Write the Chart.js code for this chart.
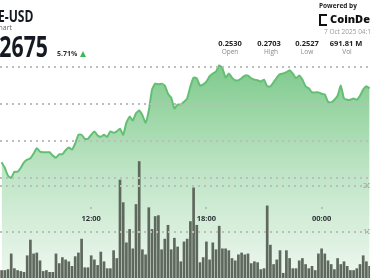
<!DOCTYPE html>
<html>
<head>
<meta charset="utf-8">
<script src="https://cdn.jsdelivr.net/npm/chart.js@4/dist/chart.umd.min.js"></script>
<style>
  html, body { margin: 0; padding: 0; background: #fff; }
  #wrap { position: relative; width: 370px; height: 280px; overflow: hidden; font-family: "Open Sans", sans-serif; }
  #chart { position: absolute; left: 0; top: 0; }
  .t { position: absolute; white-space: nowrap; line-height: 1; }
  .stat { position: absolute; width: 50px; text-align: center; line-height: 1; white-space: nowrap; }
</style>
</head>
<body>
<div id="wrap">
  <canvas id="chart" width="370" height="280"></canvas>

  <!-- left header, cropped at the left edge like the reference -->
  <div class="t" style="right:337px; top:9px; font-size:15.5px; font-weight:700; color:#151a22; transform:scaleX(0.78); transform-origin:right;">DOGE-USD</div>
  <div class="t" style="right:358px; top:24px; font-size:7px; color:#666;">Price Chart</div>
  <div class="t" style="right:322px; top:32px; font-size:28px; font-weight:700; color:#151a22; transform:scaleX(0.76); transform-origin:right;">0.2675</div>
  <div class="t" style="left:57px; top:50px; font-size:7px; font-weight:700; color:#333;">5.71%</div>
  <div style="position:absolute; left:80px; top:51px; width:0; height:0; border-left:3.5px solid transparent; border-right:3.5px solid transparent; border-bottom:6px solid #3cb95a;"></div>

  <!-- right header -->
  <div class="t" style="left:319px; top:3px; font-size:6.5px; font-weight:700; color:#222;">Powered by</div>
  <div style="position:absolute; left:319px; top:14px; width:6px; height:8px; border:2px solid #111; border-right:none;"></div>
  <div class="t" style="left:330px; top:13px; font-size:11px; font-weight:800; color:#111;">CoinDesk</div>
  <div class="t" style="left:324px; top:29px; font-size:6.5px; color:#999;">7 Oct 2025 04:15 UTC</div>

  <div class="stat" style="left:205px; top:40px; font-size:7.5px; font-weight:700; color:#222;">0.2530</div>
  <div class="stat" style="left:244px; top:40px; font-size:7.5px; font-weight:700; color:#222;">0.2703</div>
  <div class="stat" style="left:282px; top:40px; font-size:7.5px; font-weight:700; color:#222;">0.2527</div>
  <div class="stat" style="left:321px; top:40px; font-size:7.5px; font-weight:700; color:#222;">691.81 M</div>
  <div class="stat" style="left:205px; top:49px; font-size:6.5px; color:#888;">Open</div>
  <div class="stat" style="left:246px; top:49px; font-size:6.5px; color:#888;">High</div>
  <div class="stat" style="left:282px; top:49px; font-size:6.5px; color:#888;">Low</div>
  <div class="stat" style="left:322px; top:49px; font-size:6.5px; color:#888;">Vol</div>
</div>

<script>
// 10-minute bars, first one in view at 07:20
const firstBarHour = 7 + 20 / 60;
const barStepHours = 10 / 60;

// close price per bar (USD)
const price = [
  0.2549, 0.2541, 0.2529, 0.2526, 0.2535, 0.2535, 0.2541, 0.2549, 0.2553, 0.2555,
  0.2562, 0.2570, 0.2565, 0.2564, 0.2564, 0.2564, 0.2559, 0.2556, 0.2561, 0.2561,
  0.2567, 0.2571, 0.2568, 0.2577, 0.2590, 0.2590, 0.2584, 0.2584, 0.2590, 0.2595,
  0.2589, 0.2587, 0.2590, 0.2587, 0.2595, 0.2593, 0.2595, 0.2599, 0.2590, 0.2608,
  0.2617, 0.2611, 0.2622, 0.2626, 0.2619, 0.2608, 0.2626, 0.2657, 0.2666, 0.2665,
  0.2666, 0.2663, 0.2651, 0.2645, 0.2629, 0.2635, 0.2635, 0.2639, 0.2644, 0.2662,
  0.2675, 0.2674, 0.2663, 0.2665, 0.2669, 0.2677, 0.2681, 0.2684, 0.2693, 0.2689,
  0.2675, 0.2681, 0.2675, 0.2671, 0.2671, 0.2674, 0.2678, 0.2678, 0.2674, 0.2672,
  0.2671, 0.2669, 0.2672, 0.2662, 0.2662, 0.2668, 0.2675, 0.2680, 0.2681, 0.2683,
  0.2686, 0.2681, 0.2674, 0.2678, 0.2672, 0.2662, 0.2659, 0.2653, 0.2653, 0.2653,
  0.2651, 0.2650, 0.2639, 0.2638, 0.2642, 0.2648, 0.2663, 0.2644, 0.2642, 0.2642,
  0.2644, 0.2642, 0.2648, 0.2657, 0.2662, 0.2659
];

// volume per bar, millions
const volume = [
  1.7, 1.7, 1.9, 5.3, 2.1, 1.7, 1.5, 1.3, 4.9, 8.3,
  5.3, 5.5, 3.8, 1.5, 1.7, 1.3, 1.3, 5.3, 3.2, 4.5,
  4.0, 3.6, 2.6, 4.7, 5.5, 8.5, 2.3, 2.3, 4.9, 4.0,
  2.8, 5.7, 3.6, 2.1, 2.1, 6.0, 4.3, 21.3, 16.4, 7.7,
  10.6, 6.4, 16.0, 25.3, 6.2, 5.1, 15.3, 10.6, 13.4, 13.6,
  6.2, 8.5, 11.5, 6.2, 8.7, 6.8, 3.6, 7.9, 8.5, 12.3,
  19.6, 11.5, 3.4, 4.5, 7.9, 4.0, 7.7, 6.2, 11.3, 6.4,
  6.4, 6.0, 4.3, 3.8, 5.1, 5.5, 5.1, 5.3, 3.2, 3.6,
  3.4, 1.9, 2.1, 15.7, 7.2, 3.0, 4.0, 6.0, 1.1, 6.0,
  4.3, 2.1, 2.1, 3.8, 4.3, 3.0, 2.1, 2.6, 1.7, 5.3,
  6.4, 5.3, 3.8, 3.0, 1.9, 4.3, 3.0, 3.6, 2.6, 1.7,
  1.7, 2.1, 3.0, 4.9, 3.6, 2.6
];

const timeLabels = ['12:00', '18:00', '00:00'];
const timeHours  = [12, 18, 24];

const priceGrid = [0.2525, 0.2580, 0.2635, 0.2690];
const volGrid   = [10, 20];
const volLabels = ['10M', '20M'];

const hours = price.map((_, i) => firstBarHour + i * barStepHours);

// time labels sit inside the plot, volume labels hug the right edge
const innerLabels = {
  id: 'innerLabels',
  afterDraw(chart) {
    const { ctx, scales } = chart;
    ctx.save();
    ctx.textBaseline = 'middle';
    ctx.textAlign = 'center';
    timeLabels.forEach((t, i) => {
      const x = scales.x.getPixelForValue(timeHours[i]);
      ctx.fillStyle = '#999';
      ctx.fillRect(Math.round(x) - 0.5, 207, 1, 2);
      ctx.fillStyle = '#2e3338';
      ctx.font = 'bold 7.5px "Open Sans"';
      ctx.fillText(t, x, 219);
    });
    ctx.textAlign = 'left';
    ctx.fillStyle = '#9c9c9c';
    ctx.font = '7.5px "Open Sans"';
    volGrid.forEach((v, i) => {
      ctx.fillText(volLabels[i], 363, scales.yv.getPixelForValue(v));
    });
    ctx.restore();
  }
};

Chart.defaults.font.family = '"Open Sans", sans-serif';

// dotted grid drawn above the area fill
const gridDots = { color: '#bdbdbd', lineWidth: 2, drawTicks: false, z: 1 };

const ctx = document.getElementById('chart').getContext('2d');
new Chart(ctx, {
  type: 'bar',
  data: {
    datasets: [
      {
        type: 'line',
        data: price.map((p, i) => ({ x: hours[i], y: p })),
        yAxisID: 'yp',
        borderColor: '#64bf74',
        borderWidth: 2,
        pointRadius: 0,
        tension: 0.15,
        fill: 'start',
        backgroundColor: (c) => {
          const area = c.chart.chartArea;
          if (!area) return 'rgba(125,200,140,0.6)';
          const g = c.chart.ctx.createLinearGradient(0, area.top, 0, area.bottom);
          g.addColorStop(0, '#7bc889');
          g.addColorStop(0.5, '#bde4c4');
          g.addColorStop(1, '#eff8f0');
          return g;
        },
        order: 2
      },
      {
        data: volume.map((v, i) => ({ x: hours[i], y: v })),
        yAxisID: 'yv',
        backgroundColor: '#5f685c',
        barPercentage: 0.84,
        categoryPercentage: 1,
        order: 1
      }
    ]
  },
  options: {
    responsive: false,
    animation: false,
    layout: { padding: { top: 58, left: 0, right: 0, bottom: 0 } },
    plugins: { legend: { display: false }, tooltip: { enabled: false } },
    scales: {
      x: {
        type: 'linear',
        min: 7.25,
        max: 7.25 + 370 / 19.2,
        offset: false,
        display: false
      },
      yp: {
        position: 'left',
        min: 0.23741,
        max: 0.27041,
        afterBuildTicks: (s) => { s.ticks = priceGrid.map(v => ({ value: v })); },
        ticks: { display: false },
        grid: gridDots,
        border: { display: false, dash: [2, 4] }
      },
      yv: {
        position: 'right',
        min: -0.43,
        max: 47.66,
        afterBuildTicks: (s) => { s.ticks = volGrid.map(v => ({ value: v })); },
        ticks: { display: false },
        grid: gridDots,
        border: { display: false, dash: [2, 4] }
      }
    }
  },
  plugins: [innerLabels]
});
</script>
</body>
</html>
